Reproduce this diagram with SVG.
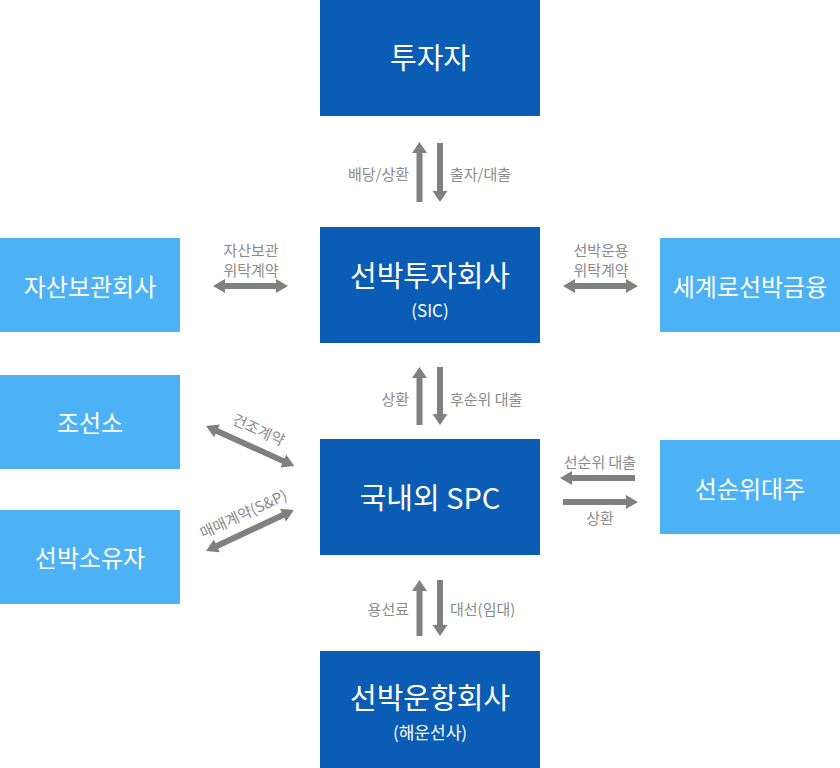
<svg xmlns="http://www.w3.org/2000/svg" width="840" height="768" viewBox="0 0 840 768">
<style>
.dk{fill:#0B5CB5}
.lt{fill:#4DB2F5}
.t{font-family:"Noto Sans CJK KR","Noto Sans",sans-serif;fill:#fff;text-anchor:middle;dominant-baseline:central}
.big{font-size:29px}
.mid{font-size:24px}
.sm{font-size:17px}
.lb{font-family:"Noto Sans CJK KR","Noto Sans",sans-serif;fill:#8a8a8a;font-size:15px;dominant-baseline:central}
.ar{fill:#808080}
</style>
<rect width="840" height="768" fill="#fff"/>
<g id="investor"><rect class="dk" x="320" y="0" width="220" height="116"/><text class="t big" x="430" y="56">투자자</text></g>
<g id="sic"><rect class="dk" x="320" y="227" width="220" height="116"/><text class="t big" x="430" y="274">선박투자회사</text><text class="t sm" x="430" y="309">(SIC)</text></g>
<g id="spc"><rect class="dk" x="320" y="439" width="220" height="116"/><text class="t big" x="430" y="496">국내외 SPC</text></g>
<g id="operator"><rect class="dk" x="320" y="651" width="220" height="117"/><text class="t big" x="430" y="696">선박운항회사</text><text class="t sm" x="430" y="731">(해운선사)</text></g>
<g id="custody"><rect class="lt" x="0" y="238" width="180" height="94"/><text class="t mid" x="90" y="285">자산보관회사</text></g>
<g id="shipyard"><rect class="lt" x="0" y="375" width="180" height="94"/><text class="t mid" x="90" y="421">조선소</text></g>
<g id="owner"><rect class="lt" x="0" y="510" width="180" height="94"/><text class="t mid" x="90" y="556">선박소유자</text></g>
<g id="segero"><rect class="lt" x="660" y="238" width="180" height="94"/><text class="t mid" x="750" y="285">세계로선박금융</text></g>
<g id="senior"><rect class="lt" x="660" y="440" width="180" height="94"/><text class="t mid" x="750" y="487">선순위대주</text></g>
<g id="connectors">
<path class="ar" d="M416.5,202V153H412L419.5,142L427,153H422.5V202Z"/>
<path class="ar" d="M437,143V191H432.5L440,202L447.5,191H443V143Z"/>
<path class="ar" d="M416.5,425V378H412L419.5,367L427,378H422.5V425Z"/>
<path class="ar" d="M437,367V414H432.5L440,425L447.5,414H443V367Z"/>
<path class="ar" d="M416.5,636V591H412L419.5,580L427,591H422.5V636Z"/>
<path class="ar" d="M437,580V625H432.5L440,636L447.5,625H443V580Z"/>
<path class="ar" d="M213,286L225,279V283H276V279L288,286L276,293V289H225V293Z"/>
<path class="ar" d="M563,286L575,279V283H626V279L638,286L626,293V289H575V293Z"/>
<path class="ar" d="M560,478L572,471V475H635V481H572V485Z"/>
<path class="ar" d="M563,499H626V495L638,502L626,509V505H563Z"/>
<path class="ar" transform="translate(206,426) rotate(24.4)" d="M0,0L12,-7V-3H85V-7L97,0L85,7V3H12V7Z"/>
<path class="ar" transform="translate(206,551) rotate(-25)" d="M0,0L12,-7V-3H85V-7L97,0L85,7V3H12V7Z"/>
<text class="lb" x="409" y="173" text-anchor="end">배당/상환</text>
<text class="lb" x="450" y="173">출자/대출</text>
<text class="lb" x="409" y="398" text-anchor="end">상환</text>
<text class="lb" x="450" y="398">후순위 대출</text>
<text class="lb" x="409" y="608" text-anchor="end">용선료</text>
<text class="lb" x="450" y="608">대선(임대)</text>
<text class="lb" x="251" y="249" text-anchor="middle">자산보관</text>
<text class="lb" x="251" y="269" text-anchor="middle">위탁계약</text>
<text class="lb" x="601" y="249" text-anchor="middle">선박운용</text>
<text class="lb" x="601" y="269" text-anchor="middle">위탁계약</text>
<text class="lb" x="600" y="461" text-anchor="middle">선순위 대출</text>
<text class="lb" x="600" y="517" text-anchor="middle">상환</text>
<text class="lb" text-anchor="middle" transform="translate(259,429) rotate(24.4)">건조계약</text>
<text class="lb" text-anchor="middle" transform="translate(243,513) rotate(-25)">매매계약(S&amp;P)</text>
</g>
</svg>
